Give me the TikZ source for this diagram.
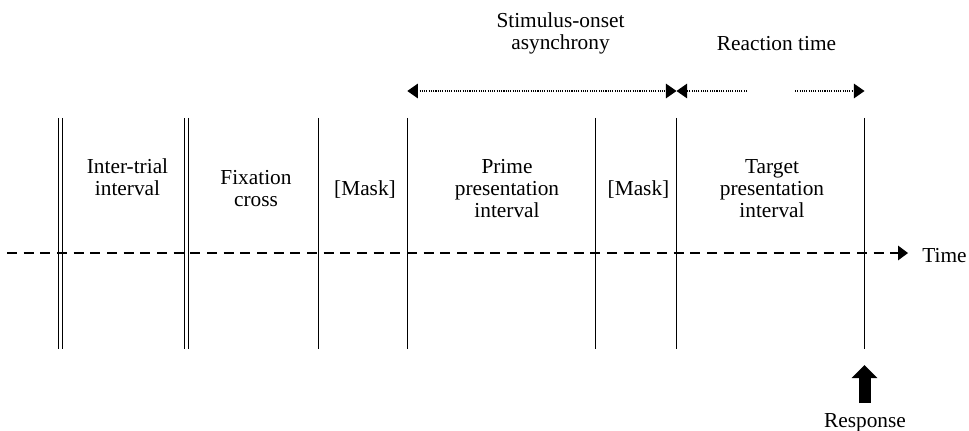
\documentclass[tikz,border=0pt]{standalone}
\usepackage{fontspec}
\setmainfont{Liberation Serif}
\usetikzlibrary{arrows.meta}
\begin{document}
\begin{tikzpicture}[x=0.75pt,y=-0.75pt,
  lbl/.style={font=\fontsize{16}{16.5}\selectfont, inner sep=0pt, align=center, anchor=base},
  vline/.style={line width=0.9pt},
  dvline/.style={line width=0.75pt, double, double distance=2.5pt},
  tip/.style={-{Triangle[length=8pt,width=11pt]}},
  dotline/.style={line width=0.9pt, dash pattern=on 0.8pt off 0.9pt},
  timeline/.style={line width=0.9pt, dash pattern=on 7.5pt off 5pt, -{Triangle[length=7.5pt,width=11pt]}},
  resp/.style={line width=9pt, -{Triangle[length=9.75pt,width=18.75pt]}}
]
\useasboundingbox (0,0) rectangle (969,431);

% vertical boundaries
\coordinate (t1) at (60.5,118);  \coordinate (b1) at (60.5,349);
\coordinate (t2) at (186.3,118); \coordinate (b2) at (186.3,349);
\coordinate (t3) at (318.3,118); \coordinate (b3) at (318.3,349);
\coordinate (t4) at (407.3,118); \coordinate (b4) at (407.3,349);
\coordinate (t5) at (595.5,118); \coordinate (b5) at (595.5,349);
\coordinate (t6) at (676.5,118); \coordinate (b6) at (676.5,349);
\coordinate (t7) at (864.5,118); \coordinate (b7) at (864.5,349);
\draw[dvline] (t1) -- (b1);
\draw[dvline] (t2) -- (b2);
\draw[vline] (t3) -- (b3);
\draw[vline] (t4) -- (b4);
\draw[vline] (t5) -- (b5);
\draw[vline] (t6) -- (b6);
\draw[vline] (t7) -- (b7);

% time axis
\coordinate (ts) at (7,253);
\coordinate (te) at (908,253);
\draw[timeline] (ts) -- (te);
\node[lbl, anchor=base west] (time) at (922,262) {Time};

% interval labels (base anchor = last line's baseline)
\node[lbl] (iti) at (127.5,195) {Inter-trial\\interval};
\node[lbl] (fix) at (256,206) {Fixation\\cross};
\node[lbl] (mask1) at (365,195) {[Mask]};
\node[lbl] (prime) at (507,217) {Prime\\presentation\\interval};
\node[lbl] (mask2) at (638.5,195) {[Mask]};
\node[lbl] (target) at (772,217) {Target\\presentation\\interval};

% top arrows
\node[lbl] (soa) at (560.5,50) {Stimulus-onset\\asynchrony};
\node[lbl] (rt) at (776.5,51) {Reaction time};
\coordinate (soaL) at (407.3,91);
\coordinate (soaR) at (676.5,91);
\coordinate (soaL2) at (417.3,91);
\draw[dotline, tip] (soaL2) -- (soaL);
\draw[dotline, tip] (soaL2) -- (soaR);
\coordinate (rtA) at (747,91);
\coordinate (rtB) at (795,91);
\coordinate (rtR) at (864.5,91);
\draw[dotline, tip] (rtA) -- (soaR);
\draw[dotline, tip] (rtB) -- (rtR);

% response arrow
\coordinate (rb) at (864.5,403);
\coordinate (rtop) at (864.5,365);
\draw[resp] (rb) -- (rtop);
\node[lbl] (response) at (865,427) {Response};
\end{tikzpicture}
\end{document}
